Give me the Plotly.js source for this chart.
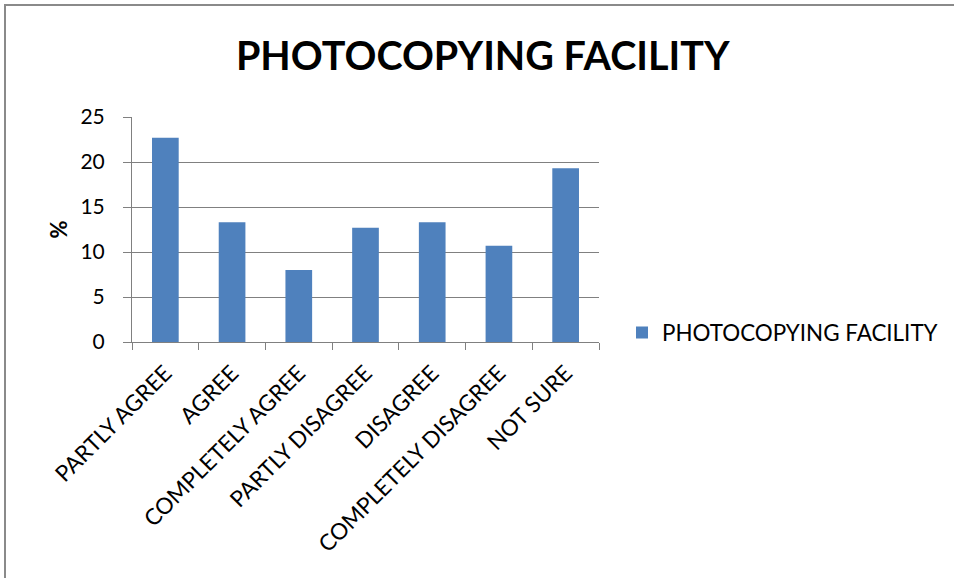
<!DOCTYPE html>
<html>
<head>
<meta charset="utf-8">
<script src="https://cdn.plot.ly/plotly-3.0.1.min.js"></script>
<style>html,body{margin:0;padding:0;background:#fff;}#chart{width:954px;height:578px;}</style>
</head>
<body>
<div id="chart"></div>
<script>
const categories = ["PARTLY AGREE", "AGREE", "COMPLETELY AGREE", "PARTLY DISAGREE", "DISAGREE", "COMPLETELY DISAGREE", "NOT SURE"];
const values = [22.7, 13.3, 8.0, 12.7, 13.3, 10.7, 19.3];
const seriesName = "PHOTOCOPYING FACILITY";
const chartTitle = "PHOTOCOPYING FACILITY";
const yTickVals = [0, 5, 10, 15, 20, 25];

const FONT = "Lato, 'Open Sans', sans-serif";
const GRID = "#808080";

const trace = {
  type: "bar",
  x: categories,
  y: values,
  name: seriesName,
  marker: {color: "#4F81BD"},
  showlegend: true
};

const layout = {
  width: 954, height: 578,
  margin: {l: 132, r: 355, t: 117, b: 236, pad: 0},
  paper_bgcolor: "#fff", plot_bgcolor: "#fff",
  font: {family: FONT, color: "#000"},
  showlegend: true,
  bargap: 0.6,
  title: {
    text: "<b>" + chartTitle + "</b>",
    font: {family: FONT, size: 39.5, color: "#000"},
    x: 0.506, xanchor: "center", xref: "container",
    y: 1 - 56/578, yanchor: "middle", yref: "container"
  },
  xaxis: {
    type: "category",
    tickangle: -45,
    tickson: "boundaries",
    ticks: "outside", ticklen: 7, tickcolor: GRID, tickwidth: 1,
    showline: true, linecolor: GRID, linewidth: 1,
    showgrid: false,
    ticklabelstandoff: 8,
    tickfont: {family: FONT, size: 22.5, color: "#000"},
    automargin: false
  },
  yaxis: {
    range: [0, 25],
    tickvals: yTickVals,
    ticks: "outside", ticklen: 8, tickcolor: GRID, tickwidth: 1,
    showline: true, linecolor: GRID, linewidth: 1,
    showgrid: true, gridcolor: GRID, gridwidth: 1,
    zeroline: false,
    ticklabelstandoff: 14,
    tickfont: {family: FONT, size: 21, color: "#000"},
    automargin: false
  },
  legend: {
    xref: "container", yref: "container",
    x: 622 / 954, xanchor: "left",
    y: 1 - 333 / 578, yanchor: "middle",
    font: {family: FONT, size: 22.4, color: "#000"},
    bgcolor: "rgba(0,0,0,0)",
    itemwidth: 30
  },
  annotations: [{
    text: "<b>%</b>",
    xref: "paper", yref: "paper",
    x: (58 - 132) / 467, y: 0.5,
    xanchor: "center", yanchor: "middle",
    textangle: -90, showarrow: false,
    font: {family: FONT, size: 22, color: "#000"}
  }],
  shapes: [{
    type: "rect", xref: "paper", yref: "paper",
    x0: (5 - 132) / 467, x1: (1000 - 132) / 467,
    y0: (342 - 620) / 225, y1: (342 - 5) / 225,
    line: {color: "#8a8a8a", width: 2},
    fillcolor: "rgba(0,0,0,0)", layer: "below"
  }]
};

Plotly.newPlot("chart", [trace], layout, {displayModeBar: false, staticPlot: true});
</script>
</body>
</html>
